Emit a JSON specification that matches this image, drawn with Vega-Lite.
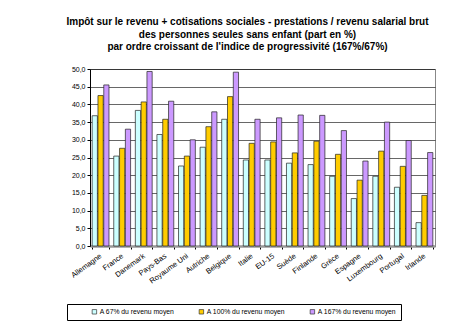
{
  "$schema": "https://vega.github.io/schema/vega-lite/v6.json",
  "width": 345,
  "height": 177,
  "autosize": {"type": "none"},
  "padding": {"left": 90, "top": 69, "right": 37, "bottom": 79},
  "background": "white",
  "title": {
    "text": ["Impôt sur le revenu + cotisations sociales - prestations / revenu salarial brut", "des personnes seules sans enfant  (part en %)", "par ordre croissant de l'indice de progressivité (167%/67%)"],
    "font": "Liberation Sans",
    "fontSize": 10,
    "fontWeight": "bold",
    "color": "#000",
    "lineHeight": 12.3,
    "anchor": "middle",
    "dx": -15,
    "offset": 13
  },
  "data": {"values": [
    {"pays": "Allemagne", "serie": "A 67% du revenu moyen", "valeur": 36.8},
    {"pays": "Allemagne", "serie": "A 100% du revenu moyen", "valeur": 42.5},
    {"pays": "Allemagne", "serie": "A 167% du revenu moyen", "valeur": 45.5},
    {"pays": "France", "serie": "A 67% du revenu moyen", "valeur": 25.4},
    {"pays": "France", "serie": "A 100% du revenu moyen", "valeur": 27.6},
    {"pays": "France", "serie": "A 167% du revenu moyen", "valeur": 33.0},
    {"pays": "Danemark", "serie": "A 67% du revenu moyen", "valeur": 38.3},
    {"pays": "Danemark", "serie": "A 100% du revenu moyen", "valeur": 40.7},
    {"pays": "Danemark", "serie": "A 167% du revenu moyen", "valeur": 49.3},
    {"pays": "Pays-Bas", "serie": "A 67% du revenu moyen", "valeur": 31.5},
    {"pays": "Pays-Bas", "serie": "A 100% du revenu moyen", "valeur": 35.8},
    {"pays": "Pays-Bas", "serie": "A 167% du revenu moyen", "valeur": 40.9},
    {"pays": "Royaume Uni", "serie": "A 67% du revenu moyen", "valeur": 22.6},
    {"pays": "Royaume Uni", "serie": "A 100% du revenu moyen", "valeur": 25.4},
    {"pays": "Royaume Uni", "serie": "A 167% du revenu moyen", "valeur": 30.0},
    {"pays": "Autriche", "serie": "A 67% du revenu moyen", "valeur": 27.9},
    {"pays": "Autriche", "serie": "A 100% du revenu moyen", "valeur": 33.7},
    {"pays": "Autriche", "serie": "A 167% du revenu moyen", "valeur": 37.9},
    {"pays": "Belgique", "serie": "A 67% du revenu moyen", "valeur": 35.8},
    {"pays": "Belgique", "serie": "A 100% du revenu moyen", "valeur": 42.2},
    {"pays": "Belgique", "serie": "A 167% du revenu moyen", "valeur": 49.1},
    {"pays": "Italie", "serie": "A 67% du revenu moyen", "valeur": 24.3},
    {"pays": "Italie", "serie": "A 100% du revenu moyen", "valeur": 29.0},
    {"pays": "Italie", "serie": "A 167% du revenu moyen", "valeur": 35.8},
    {"pays": "EU-15", "serie": "A 67% du revenu moyen", "valeur": 24.3},
    {"pays": "EU-15", "serie": "A 100% du revenu moyen", "valeur": 29.4},
    {"pays": "EU-15", "serie": "A 167% du revenu moyen", "valeur": 36.2},
    {"pays": "Suède", "serie": "A 67% du revenu moyen", "valeur": 23.4},
    {"pays": "Suède", "serie": "A 100% du revenu moyen", "valeur": 26.3},
    {"pays": "Suède", "serie": "A 167% du revenu moyen", "valeur": 37.0},
    {"pays": "Finlande", "serie": "A 67% du revenu moyen", "valeur": 23.0},
    {"pays": "Finlande", "serie": "A 100% du revenu moyen", "valeur": 29.6},
    {"pays": "Finlande", "serie": "A 167% du revenu moyen", "valeur": 36.9},
    {"pays": "Grèce", "serie": "A 67% du revenu moyen", "valeur": 19.7},
    {"pays": "Grèce", "serie": "A 100% du revenu moyen", "valeur": 25.9},
    {"pays": "Grèce", "serie": "A 167% du revenu moyen", "valeur": 32.6},
    {"pays": "Espagne", "serie": "A 67% du revenu moyen", "valeur": 13.4},
    {"pays": "Espagne", "serie": "A 100% du revenu moyen", "valeur": 18.6},
    {"pays": "Espagne", "serie": "A 167% du revenu moyen", "valeur": 24.0},
    {"pays": "Luxembourg", "serie": "A 67% du revenu moyen", "valeur": 19.7},
    {"pays": "Luxembourg", "serie": "A 100% du revenu moyen", "valeur": 26.8},
    {"pays": "Luxembourg", "serie": "A 167% du revenu moyen", "valeur": 35.0},
    {"pays": "Portugal", "serie": "A 67% du revenu moyen", "valeur": 16.6},
    {"pays": "Portugal", "serie": "A 100% du revenu moyen", "valeur": 22.5},
    {"pays": "Portugal", "serie": "A 167% du revenu moyen", "valeur": 29.8},
    {"pays": "Irlande", "serie": "A 67% du revenu moyen", "valeur": 6.6},
    {"pays": "Irlande", "serie": "A 100% du revenu moyen", "valeur": 14.3},
    {"pays": "Irlande", "serie": "A 167% du revenu moyen", "valeur": 26.4}
  ]},
  "mark": {"type": "bar", "stroke": "#222", "strokeWidth": 0.7},
  "encoding": {
    "x": {
      "field": "pays", "type": "nominal", "sort": null,
      "scale": {"paddingInner": 0.22, "paddingOuter": 0.1},
      "axis": {
        "title": null, "labelAngle": -36, "labelAlign": "right", "labelBaseline": "middle",
        "labelFont": "Liberation Sans", "labelFontSize": 7.5, "labelColor": "#000",
        "labelPadding": 6, "tickBand": "extent", "tickColor": "#000", "tickSize": 3,
        "domainColor": "#999", "domainWidth": 2.5, "grid": false
      }
    },
    "xOffset": {"field": "serie", "type": "nominal", "sort": ["A 67% du revenu moyen", "A 100% du revenu moyen", "A 167% du revenu moyen"], "scale": {"paddingInner": 0.1}},
    "y": {
      "field": "valeur", "type": "quantitative",
      "scale": {"domain": [0, 50], "nice": false},
      "axis": {
        "title": null, "values": [0, 5, 10, 15, 20, 25, 30, 35, 40, 45, 50],
        "labelExpr": "replace(format(datum.value, '.1f'), '.', ',')",
        "labelFont": "Liberation Sans", "labelFontSize": 7, "labelColor": "#000",
        "tickColor": "#000", "tickSize": 3, "domainColor": "#000",
        "grid": true, "gridColor": "#000", "gridWidth": 0.6
      }
    },
    "color": {
      "field": "serie", "type": "nominal",
      "sort": ["A 67% du revenu moyen", "A 100% du revenu moyen", "A 167% du revenu moyen"],
      "scale": {"domain": ["A 67% du revenu moyen", "A 100% du revenu moyen", "A 167% du revenu moyen"], "range": ["#CCFFFF", "#FFCC00", "#CC99FF"]},
      "legend": {
        "title": " ", "titleOrient": "left", "titlePadding": 20, "titleFontSize": 7,
        "orient": "none", "direction": "horizontal",
        "legendX": -23, "legendY": 235,
        "symbolType": "square", "symbolSize": 20, "symbolStrokeColor": "#333", "symbolStrokeWidth": 0.7,
        "labelFont": "Liberation Sans", "labelFontSize": 6.8, "labelColor": "#000", "labelOffset": 2,
        "labelExpr": "datum.label == 'A 167% du revenu moyen' ? datum.label + '          ' : datum.label",
        "columnPadding": 22, "padding": 4,
        "strokeColor": "#000", "fillColor": "white"
      }
    }
  },
  "config": {
    "view": {"stroke": "#888", "strokeWidth": 1}
  }
}
